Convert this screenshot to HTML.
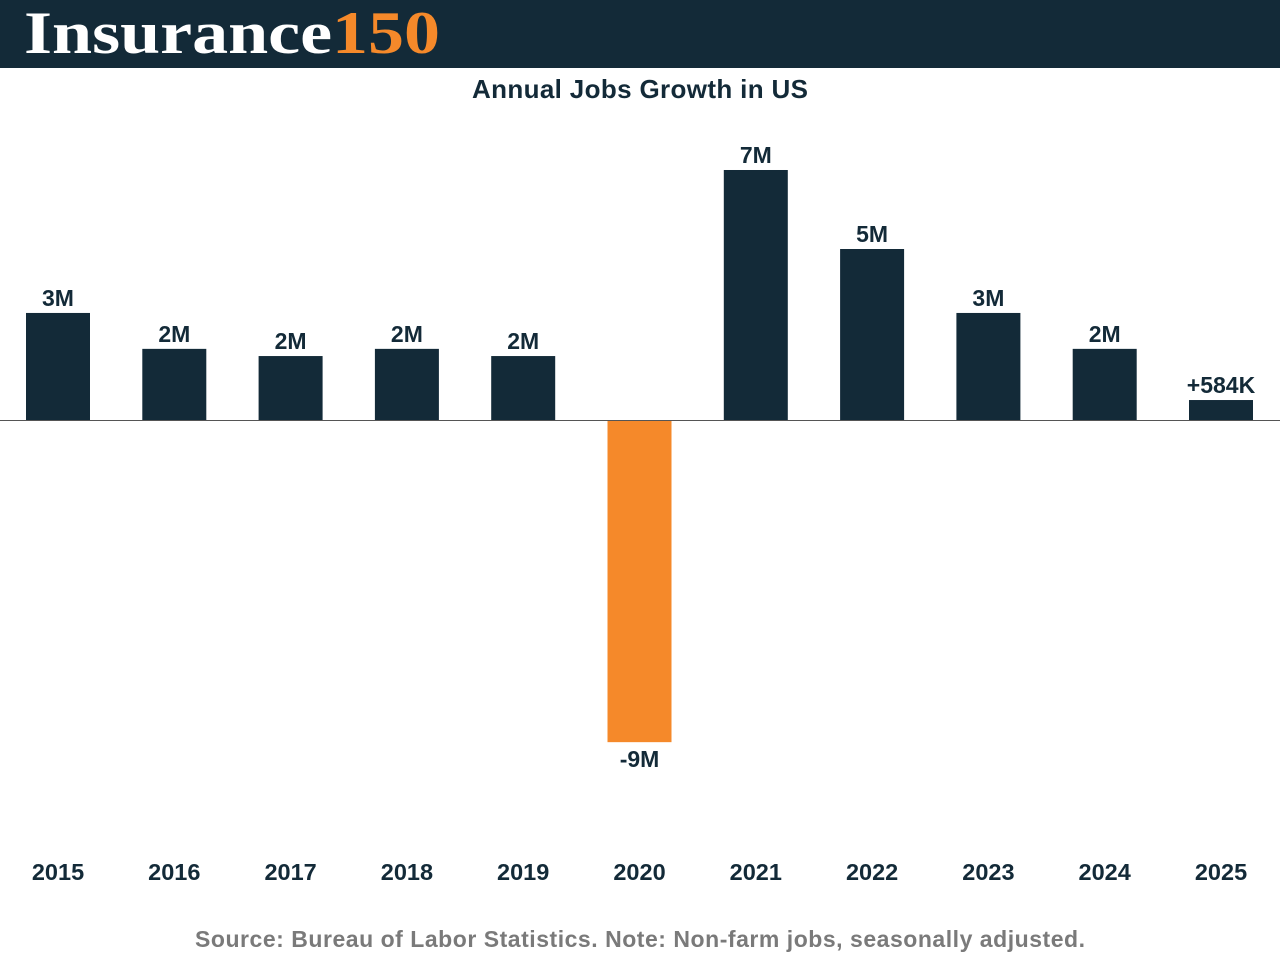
<!DOCTYPE html>
<html><head><meta charset="utf-8">
<style>
body{margin:0;width:1280px;height:960px;background:#fff;overflow:hidden;font-family:"Liberation Sans",sans-serif}
#hdr{position:absolute;left:0;top:0;width:1280px;height:68px;background:#132a38}
#logo{position:absolute;left:24px;top:-1px;font-family:"Liberation Serif",serif;font-weight:bold;font-size:60px;color:#fff;letter-spacing:0px;transform:scaleX(1.2);transform-origin:0 0;white-space:nowrap}
#logo span{color:#f5892a}
</style></head><body>
<div id="hdr"><div id="logo">Insurance<span>150</span></div></div>
<svg id="chart" width="1280" height="960" style="position:absolute;left:0;top:0">
<text x="640" y="98" text-anchor="middle" font-size="26" font-weight="bold" fill="#132a38" textLength="336">Annual Jobs Growth in US</text>
<text x="640" y="947" text-anchor="middle" font-size="23" font-weight="bold" fill="#7a7a7a" textLength="890">Source: Bureau of Labor Statistics. Note: Non-farm jobs, seasonally adjusted.</text>
</svg>
<script>
const years=["2015","2016","2017","2018","2019","2020","2021","2022","2023","2024","2025"];
const values=[3.13,2.08,1.87,2.08,1.87,-9.42,7.31,5.0,3.13,2.08,0.584];
const labels=["3M","2M","2M","2M","2M","-9M","7M","5M","3M","2M","+584K"];
const svg=document.getElementById('chart');
const NS='http://www.w3.org/2000/svg';
const base=420,pxPerM=34.2,x0=58,step=116.3,bw=64;
const y=v=>base-v*pxPerM;
const xc=i=>x0+i*step;
function mk(t,a){const e=document.createElementNS(NS,t);for(const k in a)e.setAttribute(k,a[k]);svg.appendChild(e);return e;}
values.forEach((v,i)=>{
  const top=Math.min(y(v),base),h=Math.abs(y(v)-base);
  const r=mk('rect',{x:xc(i)-bw/2,y:top,width:bw,height:h,fill:v<0?'#f5892a':'#132a38'});
  
  
  const ly=v<0?y(v)+25:y(v)-7;
  const t=mk('text',{x:xc(i),y:ly,'text-anchor':'middle','font-size':23,'font-weight':'bold',fill:'#132a38'});
  t.textContent=labels[i];
  
  
  const xt=mk('text',{x:xc(i),y:880,'text-anchor':'middle','font-size':23.5,'font-weight':'bold',fill:'#132a38'});
  xt.textContent=years[i];
  
  
});
const ln=mk('line',{x1:0,x2:1280,y1:base+0.5,y2:base+0.5,stroke:'#555','stroke-width':1});


</script>
</body></html>
